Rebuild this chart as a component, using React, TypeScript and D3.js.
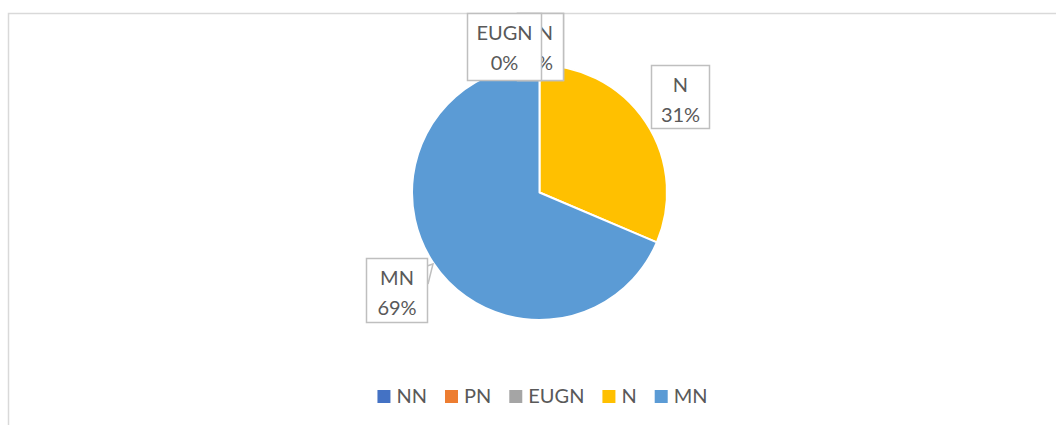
import React, { useEffect, useRef } from "react";
import * as d3 from "d3";

const categories = ["NN", "PN", "EUGN", "N", "MN"];
const values = [0, 0, 0, 31.4, 68.6];
const labelText = ["0%", "0%", "0%", "31%", "69%"];
const colors = ["#4472C4", "#ED7D31", "#A5A5A5", "#FFC000", "#5B9BD5"];

const W = 1057;
const H = 425;
const FONT = "Lato, 'Open Sans', sans-serif";
const TEXT = "#595959";

export default function App() {
  const ref = useRef<SVGSVGElement | null>(null);

  useEffect(() => {
    const svg = d3.select(ref.current);
    svg.selectAll("*").remove();

    // chart frame (cropped at right/bottom)
    svg.append("path")
      .attr("d", `M8.5,${H + 5} L8.5,13.5 L1056,13.5`)
      .attr("fill", "none")
      .attr("stroke", "#d9d9d9")
      .attr("stroke-width", 1.5);

    const cx = 539.5, cy = 192.5, r = 127.5;
    const pie = d3.pie<number>().sort(null).value((d) => d);
    const arcs = pie(values);
    const arc = d3.arc<d3.PieArcDatum<number>>().innerRadius(0).outerRadius(r);

    const g = svg.append("g").attr("transform", `translate(${cx},${cy})`);
    g.selectAll("path.slice")
      .data(arcs)
      .join("path")
      .attr("class", "slice")
      .attr("d", (d) => arc(d) as string)
      .attr("fill", (_d, i) => colors[i])
      .attr("stroke", "#ffffff")
      .attr("stroke-width", 2)
      .attr("stroke-linejoin", "round");

    // data label boxes
    const boxes = [
      { x: 517, y: 13, w: 46, h: 67 },
      { x: 517, y: 13, w: 46, h: 67 },
      { x: 467, y: 13, w: 74, h: 67 },
      { x: 651, y: 65, w: 58, h: 63 },
      { x: 366, y: 258, w: 61, h: 64 },
    ];

    // leader line for MN
    svg.append("path")
      .attr("d", "M427,266 L433,264 L428,284")
      .attr("fill", "none")
      .attr("stroke", "#bfbfbf")
      .attr("stroke-width", 1.5);

    categories.forEach((c, i) => {
      const b = boxes[i];
      const lg = svg.append("g");
      lg.append("rect")
        .attr("x", b.x + 0.5).attr("y", b.y + 0.5)
        .attr("width", b.w).attr("height", b.h)
        .attr("fill", "#ffffff")
        .attr("stroke", "#bfbfbf")
        .attr("stroke-width", 1.5);
      const tx = i < 2 ? b.x + b.w - 10 : b.x + b.w / 2 + 0.5;
      const anchor = i < 2 ? "end" : "middle";
      lg.append("text")
        .attr("x", tx).attr("y", b.y + 27)
        .attr("text-anchor", anchor)
        .attr("font-family", FONT).attr("font-size", 20)
        .attr("fill", TEXT)
        .text(c);
      lg.append("text")
        .attr("x", tx).attr("y", b.y + 57)
        .attr("text-anchor", anchor)
        .attr("font-family", FONT).attr("font-size", 20)
        .attr("fill", TEXT)
        .text(labelText[i]);
    });

    // legend
    const leg = svg.append("g");
    const sq = 13, gapSq = 6, gapItem = 18;
    const items = categories.map((c, i) => {
      const it = leg.append("g");
      it.append("rect").attr("width", sq).attr("height", sq).attr("fill", colors[i]);
      const t = it.append("text")
        .attr("x", sq + gapSq).attr("y", sq)
        .attr("font-family", FONT).attr("font-size", 20)
        .attr("fill", TEXT)
        .text(c);
      const tw = (t.node() as SVGTextElement).getComputedTextLength();
      return { it, w: sq + gapSq + tw };
    });
    const total = items.reduce((s, d) => s + d.w, 0) + gapItem * (items.length - 1);
    let x = 542.5 - total / 2;
    items.forEach((d) => {
      d.it.attr("transform", `translate(${x},390)`);
      x += d.w + gapItem;
    });
  }, []);

  return (
    <svg
      ref={ref}
      width={W}
      height={H}
      style={{ position: "absolute", left: 0, top: 0, background: "#fff" }}
    />
  );
}
